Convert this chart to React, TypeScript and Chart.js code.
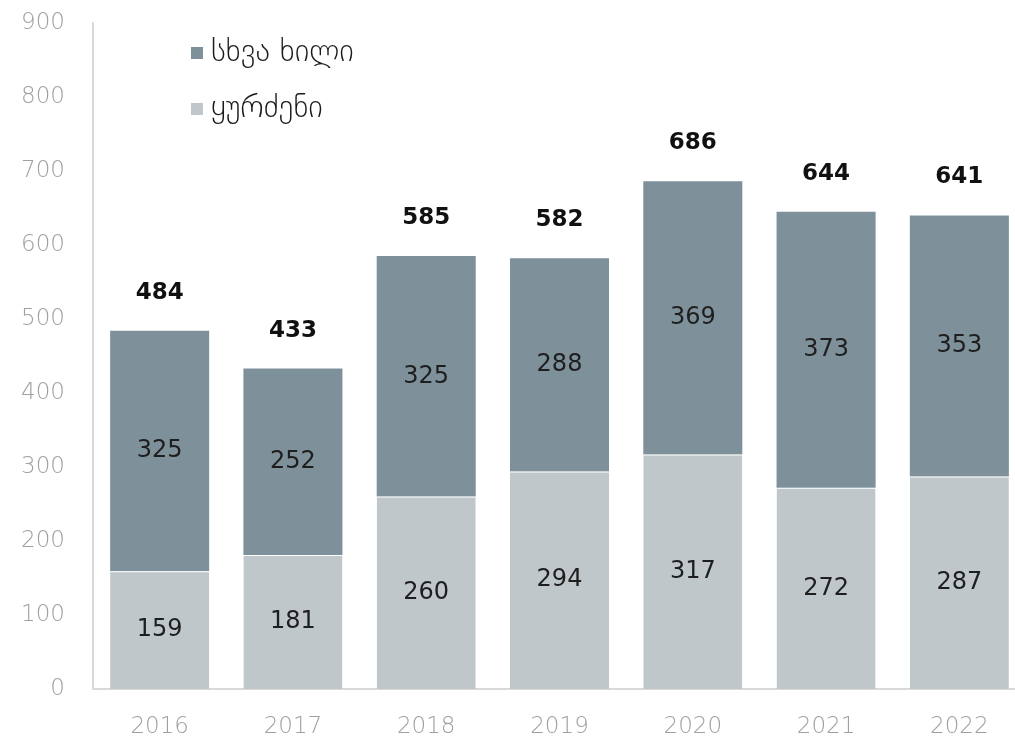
import React, { useEffect, useRef } from "react";
import { Chart, registerables } from "chart.js";

Chart.register(...registerables);

const categories = ["2016", "2017", "2018", "2019", "2020", "2021", "2022"];
const grapes = [159, 181, 260, 294, 317, 272, 287];
const otherFruit = [325, 252, 325, 288, 369, 373, 353];
const totals = [484, 433, 585, 582, 686, 644, 641];
const seriesNames = ["ყურძენი", "სხვა ხილი"];
const yTicks = [0, 100, 200, 300, 400, 500, 600, 700, 800, 900];

const LIGHT = "#bfc7ca";
const DARK = "#7e919b";
const FONT = "'DejaVu Sans', sans-serif";

const labelsPlugin = {
  id: "customLabels",
  afterDatasetsDraw(chart: any) {
    const ctx = chart.ctx;
    const area = chart.chartArea;
    ctx.save();
    ctx.textAlign = "center";
    ctx.textBaseline = "middle";
    // segment labels
    chart.data.datasets.forEach((ds: any, di: number) => {
      const meta = chart.getDatasetMeta(di);
      meta.data.forEach((bar: any, i: number) => {
        const y = (bar.y + bar.base) / 2;
        ctx.fillStyle = "#1e1e1e";
        ctx.font = `400 24px ${FONT}`;
        ctx.fillText(String(ds.data[i]), bar.x, y);
      });
    });
    // totals
    const topMeta = chart.getDatasetMeta(1);
    topMeta.data.forEach((bar: any, i: number) => {
      ctx.fillStyle = "#111";
      ctx.font = `700 23px ${FONT}`;
      ctx.fillText(String(totals[i]), bar.x, bar.y - 38);
    });
    // legend (top series first)
    const order = [1, 0];
    order.forEach((di, k) => {
      const ds = chart.data.datasets[di];
      const cy = area.top + 30 + k * 56;
      const x0 = area.left + 98;
      ctx.fillStyle = ds.backgroundColor;
      ctx.fillRect(x0, cy - 6, 12, 12);
      ctx.fillStyle = "#1a1a1a";
      ctx.textAlign = "left";
      ctx.font = `300 31px ${FONT}`;
      ctx.fillText(ds.label, x0 + 20, cy);
    });
    ctx.restore();
  },
};

export default function App() {
  const ref = useRef<HTMLCanvasElement>(null);
  useEffect(() => {
    if (!ref.current) return;
    const chart = new Chart(ref.current, {
      type: "bar",
      data: {
        labels: categories,
        datasets: [
          {
            label: seriesNames[0],
            data: grapes,
            backgroundColor: LIGHT,
            borderColor: "#ffffff",
            borderWidth: { top: 1, left: 0, right: 0, bottom: 0 },
            borderSkipped: false,
            barPercentage: 0.743,
            categoryPercentage: 1,
          },
          {
            label: seriesNames[1],
            data: otherFruit,
            backgroundColor: DARK,
            borderWidth: 0,
            barPercentage: 0.743,
            categoryPercentage: 1,
          },
        ],
      },
      options: {
        responsive: false,
        animation: false,
        devicePixelRatio: 1,
        layout: { padding: { top: 23, right: 0, left: 0, bottom: 0 } },
        plugins: { legend: { display: false }, tooltip: { enabled: false } },
        scales: {
          x: {
            stacked: true,
            grid: { display: false, drawTicks: false },
            border: { display: true, color: "#d9d9d9", width: 2 },
            ticks: {
              color: "#a0a0a0",
              font: { family: FONT, size: 23, weight: 200 },
              padding: 24,
            },
            afterFit(scale: any) {
              scale.height = 52;
              scale.paddingLeft = 0;
              scale.paddingRight = 0;
            },
          },
          y: {
            stacked: true,
            min: 0,
            max: 900,
            afterBuildTicks(scale: any) {
              scale.ticks = yTicks.map((v) => ({ value: v }));
            },
            grid: { display: false, drawTicks: false },
            border: { display: true, color: "#d9d9d9", width: 2 },
            ticks: {
              color: "#a0a0a0",
              font: { family: FONT, size: 23, weight: 200 },
              padding: 28,
            },
            afterFit(scale: any) {
              scale.width = 93;
              scale.paddingTop = 0;
              scale.paddingBottom = 0;
            },
          },
        },
      },
      plugins: [labelsPlugin],
    });
    return () => chart.destroy();
  }, []);
  return (
    <div
      style={{
        position: "absolute",
        left: 0,
        top: 0,
        width: 1015,
        height: 741,
        overflow: "hidden",
        background: "#fff",
      }}
    >
      <canvas ref={ref} width={1026} height={741} style={{ display: "block" }} />
    </div>
  );
}
